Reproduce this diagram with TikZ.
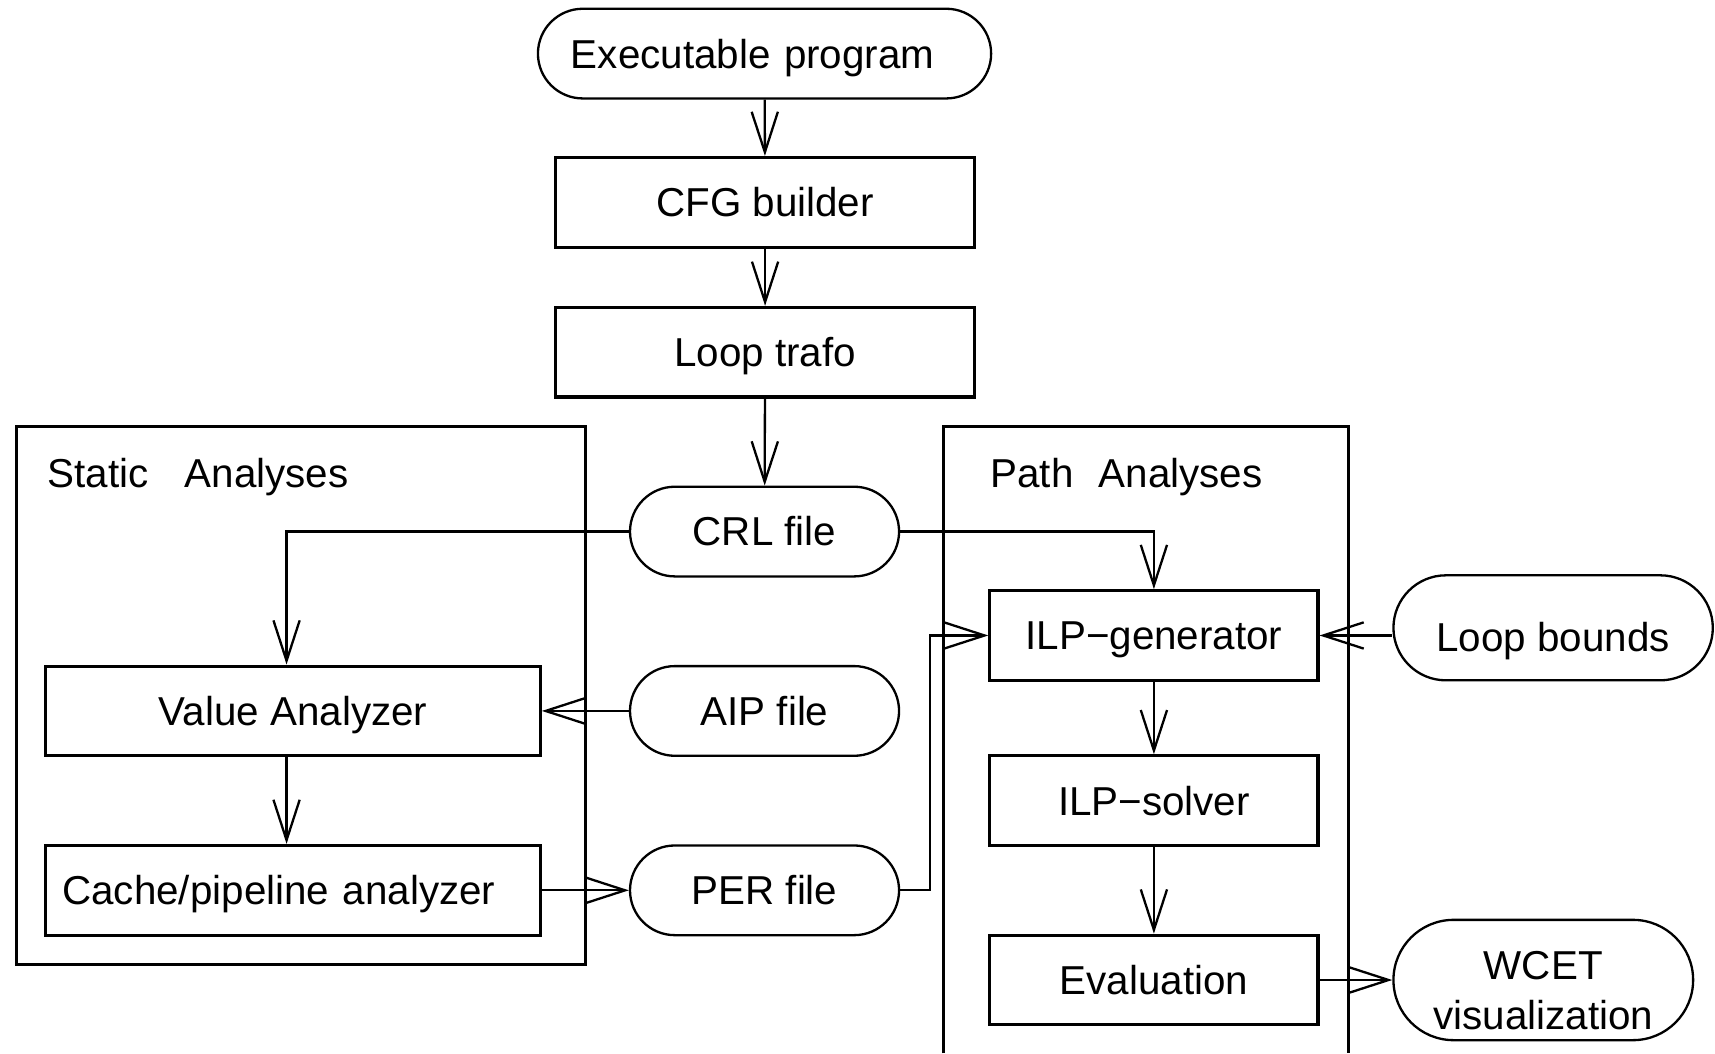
\documentclass[tikz,border=0pt]{standalone}
\usepackage{fontspec}
\setmainfont{Liberation Sans}
\usetikzlibrary{shapes.misc,arrows.meta}

\begin{document}
\begin{tikzpicture}[x=0.1mm,y=-0.1mm,
    font=\fontsize{10.5}{12.6}\selectfont,
    box/.style={draw,line width=0.8pt,minimum width=38.3mm,minimum height=8.2mm,inner sep=0pt,
      text height=7.5pt,text depth=0pt},
    file/.style={draw,rounded rectangle,line width=0.6pt,minimum width=24.6mm,minimum height=8.2mm,inner sep=0pt,
      text height=7.5pt,text depth=0pt},
    frame/.style={line width=0.8pt},
    flow/.style={-{Straight Barb[length=3.7mm,width=2.4mm]},line width=0.6pt}]
  \useasboundingbox (0,0) rectangle (1568,963);
  % the two analysis frames
  \draw[frame] (15,390) rectangle (535,882);
  \draw[frame] (863,963) -- (863,390) -- (1233,390) -- (1233,963);
  \node[anchor=base west,inner sep=0pt] (sa) at (43,446) {Static\hspace{3.3mm}Analyses};
  \node[anchor=base west,inner sep=0pt] (pa) at (905,446) {Path\hspace{2.3mm}Analyses};
  % main column
  \node[file,minimum width=41mm,inner xsep=2.8mm,text width=35.4mm,align=left] (exe) at (699,49) {Executable program};
  \node[box] (cfg) at (699.5,185) {CFG builder};
  \node[box] (trafo) at (699.5,322) {Loop trafo};
  \node[file] (crl) at (699,486) {CRL file};
  \node[file] (aip) at (699,650) {AIP file};
  \node[file] (per) at (699,814) {PER file};
  % static analyses
  \node[box,minimum width=45.2mm] (va) at (268,650) {Value Analyzer};
  \node[box,minimum width=45.2mm,inner xsep=1.5mm,text width=42.2mm,align=left] (cpa) at (268,814) {Cache/pipeline analyzer};
  % path analyses
  \node[box,minimum width=30mm] (gen) at (1055,581) {ILP−generator};
  \node[box,minimum width=30mm] (sol) at (1055,732) {ILP−solver};
  \node[box,minimum width=30mm] (eval) at (1055,896) {Evaluation};
  \node[file,minimum width=29.2mm,minimum height=9.6mm,text height=12.5pt] (lb) at (1420,574) {Loop bounds};
  \node[file,minimum width=27.4mm,minimum height=11mm,
    label={[name=wcettext,align=center,yshift=-1mm,font=\fontsize{10.5}{13}\selectfont]center:{WCET\\visualization}}]
    (wcet) at (1411,896) {};
  % connectors
  \foreach \a/\b in {exe/cfg,cfg/trafo,trafo/crl,gen/sol,sol/eval}
    \draw[flow] (\a) -- (\b);
  \draw[flow] (crl.west) -| ([xshift=-0.6mm]va.north);
  \draw[flow] (crl.east) -| (gen.north);
  \draw[flow] (aip.west) -- (va.east);
  \draw[flow] ([xshift=-0.6mm]va.south) -- ([xshift=-0.6mm]cpa.north);
  \draw[flow] (cpa.east) -- (per.west);
  \draw[flow] (per.east) -- ++(27,0) |- (gen.west);
  \draw[flow] (gen.east -| lb.west) -- (gen.east);
  \draw[flow] (eval) -- (wcet);
\end{tikzpicture}
\end{document}
